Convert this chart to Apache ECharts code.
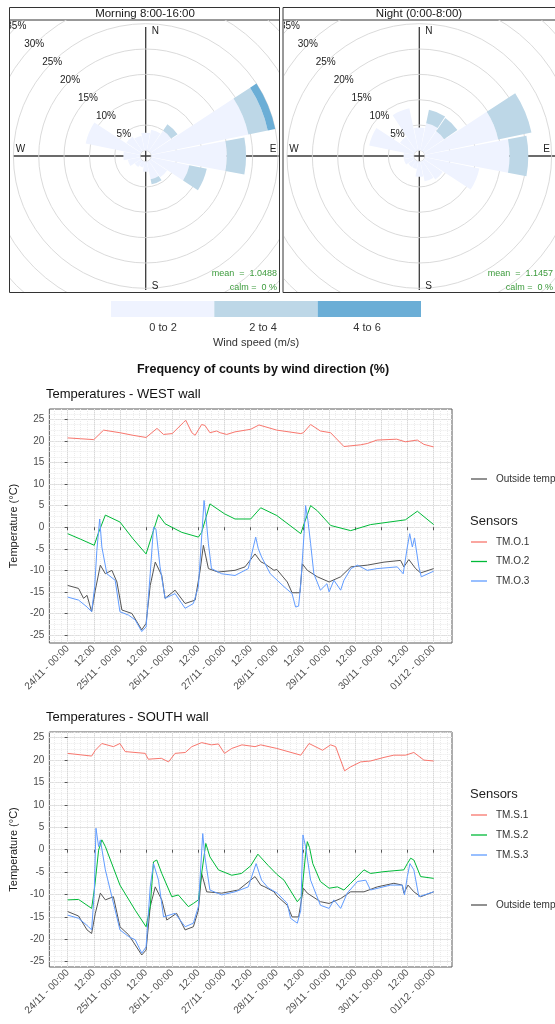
<!DOCTYPE html>
<html>
<head>
<meta charset="utf-8">
<script src="https://cdn.jsdelivr.net/npm/echarts@6/dist/echarts.min.js"></script>
<style>
html,body{margin:0;padding:0;background:#fff;overflow:hidden;width:555px;height:1024px;}
#main{position:absolute;left:0;top:0;width:555px;height:1024px;}
#rose1{position:absolute;left:10px;top:20px;width:269px;height:272px;}
#rose2{position:absolute;left:284px;top:20px;width:271px;height:272px;}
</style>
</head>
<body>
<div id="main"></div>
<div id="rose1"></div>
<div id="rose2"></div>
<script>
// ---------------- DATA ----------------
const directions = ['N','NNE','NE','ENE','E','ESE','SE','SSE','S','SSW','SW','WSW','W','WNW','NW','NNW'];
const speedBins = ['0 to 2','2 to 4','4 to 6'];
const morning0to2 = [3.5,4.2,5.0,19.6,14.9,7.7,4.0,3.6,2.0,1.2,1.5,2.5,3.3,11.0,3.5,3.0];
const morning2to4 = [0,0,1.5,3.9,3.8,3.5,0,1.0,0,0,0,0,0,0,0,0];
const morning4to6 = [0,0,0,1.5,0,0,0,0,0,0,0,0,0,0,0,0];
const night0to2 = [4.5,5.5,4.8,14.8,16.7,11.0,4.5,4.0,3.0,1.5,1.5,2.0,2.0,9.0,3.5,8.5];
const night2to4 = [0,2.7,3.2,6.7,3.7,0,0,0,0,0,0,0,0,0,0,0];
const night4to6 = [0,0,0,0,0,0,0,0,0,0,0,0,0,0,0,0];

const xTickHours = [0,12,24,36,48,60,72,84,96,108,120,132,144,156,168];
const xTickLabels = ['24/11 - 00:00','12:00','25/11 - 00:00','12:00','26/11 - 00:00','12:00','27/11 - 00:00','12:00','28/11 - 00:00','12:00','29/11 - 00:00','12:00','30/11 - 00:00','12:00','01/12 - 00:00'];
const yTicks = [-25,-20,-15,-10,-5,0,5,10,15,20,25];

// WEST wall  [hour since 24/11 00:00, °C]
const westOutside = [[0,-13.5],[5,-14.2],[7.3,-16.5],[8.9,-15.8],[11,-19.6],[12.7,-14.6],[15,-8.8],[17.3,-10.8],[20.3,-10],[22.6,-12.7],[24.9,-19.2],[29.5,-20],[34,-23.8],[36,-22.3],[37.9,-13.5],[40.2,-8.1],[43.2,-11.2],[44.7,-16.5],[49.3,-14.6],[53.9,-17.7],[58.5,-16.9],[60.8,-10],[62.3,-4.2],[64.6,-9.6],[69,-10.4],[76.8,-10],[81.4,-9.2],[86,-6.2],[88.6,-8.0],[90.5,-8.5],[94.7,-10],[96,-9.8],[100.8,-12.7],[103,-15.2],[106.6,-15.2],[107.7,-8.5],[110,-10],[114.6,-11.5],[120,-12.7],[125.3,-11.5],[130,-9.2],[137.5,-8.8],[145.2,-8.1],[152.8,-7.7],[154.3,-9.2],[156.6,-7.5],[159.7,-9.6],[162,-10.6],[168,-9.6]];
const westTMO1 = [[0,20.7],[6,20.5],[12,20.3],[16.5,22.5],[24,21.9],[30,21.3],[36,20.8],[41,22.9],[44,21.5],[48,21.7],[53.2,24.3],[54.2,24.8],[57,21.9],[58.5,21.3],[61.5,23.8],[63,23.6],[65.3,21.9],[68.4,22.3],[70,21.9],[73,21.5],[76.8,22.1],[84,22.7],[87.8,23.7],[96,22.5],[107,21.7],[108.2,21.9],[111.5,23.8],[116,22.3],[120.7,21.9],[126.8,18.7],[134.5,19.1],[137.5,19.4],[142,20.2],[151,20.4],[155,19.8],[160.5,20.2],[163.5,19.2],[168,18.6]];
const westTMO2 = [[0,-1.5],[6,-2.8],[12.2,-4.2],[14,-1.5],[17.3,2.8],[24,1.2],[30,-2.7],[36,-6.2],[41.7,2.9],[44.7,0.8],[52.4,-1.2],[60,-2.3],[61.5,-1.2],[65.3,5.4],[72,3.1],[76.8,1.9],[84,1.9],[88.6,4.5],[96,2.7],[107,-1.5],[108.5,0.8],[111.5,5.0],[114.6,3.8],[120.7,0.4],[129.9,-0.8],[139,0.6],[155,1.7],[160.5,3.7],[168,0.6]];
const westTMO3 = [[0,-16.2],[5,-16.9],[8.9,-18.5],[11,-19.6],[12.4,-13.8],[13.4,-5.4],[14.7,1.9],[15.7,-4.6],[18,-10.8],[21.8,-12.3],[24,-19.6],[28,-20.4],[31,-21.5],[34,-24.2],[36,-23.1],[37.9,-10.8],[39.4,0],[40.5,-0.4],[42.4,-9.2],[44.7,-16.5],[49.3,-15.4],[53.9,-18.8],[57.7,-17.7],[60,-13.8],[61.5,-2.3],[62.6,6.2],[63.5,2.3],[64.6,-3.8],[66,-9.6],[70.7,-10.8],[76.8,-11.2],[82.9,-9.6],[86.3,-2.3],[87.5,-5],[89,-6.9],[93,-10.8],[99.3,-13.8],[103,-15.4],[104.6,-18.5],[106,-18.3],[107,-13.1],[108.5,-1.5],[109.2,5.0],[110.3,1.5],[111.5,-3.8],[113,-10.8],[116,-14.6],[119,-13.1],[120,-15],[122.2,-12.3],[125.3,-14.6],[126.8,-12.3],[130,-9.6],[133,-8.8],[137.5,-10],[142,-9.6],[151.3,-9.2],[154,-10.8],[155.9,-4.6],[157,-1.5],[158.2,-4.6],[159.2,-2.5],[161.2,-9.2],[162.3,-11.5],[168,-10.2]];

// SOUTH wall
const southTMS1 = [[0,21.5],[11,20.9],[12.7,22.2],[15.7,23.7],[21,23.0],[24,23.7],[26.4,21.9],[35.6,21.5],[37,20.2],[43,20.4],[46.3,19.6],[49.3,21.5],[54,21.7],[57,23.0],[61.5,23.9],[66,23.4],[69.2,23.6],[72,21.5],[75.3,22.6],[80,23.4],[86,23.0],[88.6,23.4],[96,22.6],[107,21.1],[110.8,23.7],[117,22.2],[120.7,23.4],[123,23.0],[127.1,17.6],[129.9,18.5],[134.5,19.6],[139,19.8],[145.2,20.6],[149.7,21.1],[155.1,21.1],[158.9,21.7],[163.5,20.0],[168,19.8]];
const southTMS2 = [[0,-11.2],[5,-11.1],[11,-13.1],[12.4,-8.3],[14.2,-0.1],[15.7,2.2],[17.3,0.7],[24,-7.9],[31,-13.5],[36,-17.2],[37.9,-12.7],[39.4,-2.7],[40.9,-2.3],[43.2,-5.3],[47.8,-10.5],[50.8,-10.1],[55.4,-12.7],[57.7,-12.0],[60,-11.2],[61.5,-5.3],[63.4,1.4],[65.3,-1.6],[69.2,-4.5],[75.3,-5.7],[79.8,-5.3],[84,-3.6],[87.3,-1.0],[92,-3.5],[96,-5.5],[99.3,-6.8],[105.4,-11.6],[107.3,-10.5],[109.2,-1.0],[110,1.8],[111,0.5],[112.5,-3.1],[116,-7.1],[120,-8.6],[123.8,-8.3],[126.8,-9.0],[129.9,-7.5],[136,-4.5],[139,-5.3],[145.2,-4.9],[154.3,-4.5],[155.9,-3.1],[157.4,-1.9],[158.9,-2.3],[162,-6.0],[168,-6.4]];
const southTMS3 = [[0,-14.6],[5,-15.3],[9.6,-17.2],[11,-17.9],[12.2,-9.7],[13,4.8],[14.2,0.7],[15,2.2],[17.3,-4.5],[24,-17.9],[28,-19.4],[31,-20.1],[34,-23.1],[36,-21.7],[37.9,-8.3],[39.4,-3.1],[41.7,-6.8],[44,-15.0],[49.3,-14.2],[53.9,-17.2],[57.7,-16.4],[60,-12.7],[62,3.6],[63,-1.6],[65.3,-9.0],[70.7,-10.1],[76.8,-9.4],[82.9,-8.3],[86.5,-3.1],[89,-6.8],[92,-8.5],[96.2,-9.7],[100.8,-12],[102.3,-15.3],[105.4,-16.4],[107,-13.5],[108,3.3],[109.2,0.7],[111.5,-6.8],[116,-12.4],[120,-13.1],[122.2,-11.2],[125.3,-13.1],[128.3,-9.7],[133,-7.1],[136.8,-6.8],[139,-9.0],[148.2,-7.9],[153.6,-7.9],[154.6,-10.1],[155.9,-6.0],[157.1,-3.1],[158.9,-4.5],[161.2,-10.5],[168,-9.4]];
const southOutside = [[0,-13.8],[5,-14.8],[8.9,-17.9],[11,-18.7],[12.7,-14.2],[15,-9.7],[17.3,-11.2],[21,-10.5],[24,-17.2],[28,-19.0],[34,-23.5],[36,-22.4],[37.9,-12.7],[40.2,-8.3],[43.2,-11.2],[45.5,-15.7],[50,-14.2],[53.9,-17.9],[57.7,-17.2],[60,-13.5],[61.5,-5.3],[63.8,-9.4],[70.7,-9.7],[78.3,-9.0],[86,-6.0],[88.6,-7.9],[90.5,-8.3],[94.7,-9.4],[96,-10.3],[100.8,-12.4],[103,-15.0],[106,-15.0],[108.2,-8.6],[110,-9.7],[116,-11.6],[120,-12.0],[125.3,-10.9],[129.9,-9.4],[136,-9.4],[142.1,-8.3],[149.7,-7.5],[153.6,-7.9],[154.3,-9.7],[156.2,-7.9],[158.9,-9.4],[162,-10.5],[168,-9.4]];

// ---------------- STYLE ----------------
const FONT = '"Liberation Sans", Arial, sans-serif';
const windColors = ['#EFF3FF','#BDD7E7','#6BAED6'];
const sensorColors = ['#F8766D','#00BA38','#619CFF'];
const outsideColor = '#555555';

// ---------------- WIND ROSES ----------------
function roseOption(cx, cy, bins, meanText, w) {
  const seriesList = bins.map((vals, i) => ({
    type: 'bar', coordinateSystem: 'polar', polarIndex: 0, stack: 'speed',
    name: speedBins[i], data: vals, barCategoryGap: '5%',
    itemStyle: { color: windColors[i] }, silent: true
  }));
  const t = (x, y, text, opts) => ({
    type: 'text', x: x, y: y, z: 20,
    style: Object.assign({ text: text, font: '10px ' + FONT, fill: '#222',
      textAlign: 'left', textVerticalAlign: 'middle', align: 'left', verticalAlign: 'middle' }, opts || {})
  });
  return {
    animation: false,
    textStyle: { fontFamily: FONT },
    polar: [{ center: [cx, cy], radius: [5.6, 183] }, { center: [cx, cy], radius: [5.6, 183] }],
    angleAxis: [
      { polarIndex: 0, type: 'category', data: directions, startAngle: 101.25, clockwise: true,
        axisLine: { show: false }, axisTick: { show: false }, axisLabel: { show: false }, splitLine: { show: false } },
      { polarIndex: 1, type: 'value', min: 0, max: 360, startAngle: 135,
        axisLine: { show: false }, axisTick: { show: false }, axisLabel: { show: false }, splitLine: { show: false } }
    ],
    radiusAxis: [
      { polarIndex: 0, type: 'value', min: 0, max: 35, interval: 5,
        axisLine: { show: false }, axisTick: { show: false }, axisLabel: { show: false },
        splitLine: { show: true, lineStyle: { color: '#d6d6d6', width: 0.9 } } },
      { polarIndex: 1, type: 'value', min: 0, max: 35, interval: 5, z: 10,
        axisLine: { show: false }, axisTick: { show: false }, splitLine: { show: false },
        axisLabel: { show: true, rotate: 0, margin: 0, align: 'center', verticalAlign: 'middle',
          fontSize: 10, color: '#222', fontFamily: FONT,
          formatter: v => (v === 0 ? '' : v + '%') } }
    ],
    graphic: [
      { type: 'line', z: 0, shape: { x1: 3, y1: cy, x2: w, y2: cy }, style: { stroke: '#3a3a3a', lineWidth: 1.3 } },
      { type: 'line', z: 0, shape: { x1: cx, y1: 7, x2: cx, y2: 270 }, style: { stroke: '#3a3a3a', lineWidth: 1.3 } },
      t(cx + 6, cy - 125, 'N'),
      t(cx + 6, cy + 130, 'S'),
      t(cx - 130, cy - 7, 'W'),
      t(cx + 124, cy - 7, 'E'),
      t(w - 2, 253.5, 'mean  =  ' + meanText, { font: '9px ' + FONT, fill: '#3c9b3c', textAlign: 'right', align: 'right' }),
      t(w - 2, 267.5, 'calm =  0 %', { font: '9px ' + FONT, fill: '#3c9b3c', textAlign: 'right', align: 'right' })
    ],
    series: seriesList
  };
}

const rose1 = echarts.init(document.getElementById('rose1'));
rose1.setOption(roseOption(135.7, 136, [morning0to2, morning2to4, morning4to6], '1.0488', 269));
const rose2 = echarts.init(document.getElementById('rose2'));
rose2.setOption(roseOption(135.3, 136, [night0to2, night2to4, night4to6], '1.1457', 271));

// ---------------- TEMPERATURE CHARTS ----------------
const xMinor = []; for (let h = -6; h <= 174; h += 3) xMinor.push(h);
const yMinor = []; for (let v = -26.25; v <= 27; v += 1.25) yMinor.push(v);

function xAxes(gi) {
  return [
    { gridIndex: gi, type: 'value', position: 'bottom', min: -8.4, max: 176.4,
      axisLine: { show: false },
      axisTick: { show: true, customValues: xTickHours, length: 3, lineStyle: { color: '#555' } },
      axisLabel: { customValues: xTickHours, rotate: 45, margin: 4, fontSize: 10, color: '#4d4d4d', fontFamily: FONT,
        formatter: v => xTickLabels[xTickHours.indexOf(v)] || '' },
      splitLine: { show: true, lineStyle: { color: '#d8d8d8', width: 1 } } },
    { gridIndex: gi, type: 'value', position: 'top', min: -8.4, max: 176.4,
      axisLine: { show: false }, axisTick: { show: false, customValues: xMinor }, axisLabel: { show: false },
      splitLine: { show: true, lineStyle: { color: '#ebebeb', width: 1, type: 'dotted' } } }
  ];
}
function yAxes(gi, mn, mx) {
  return [
    { gridIndex: gi, type: 'value', position: 'left', min: mn, max: mx,
      name: 'Temperature (°C)', nameLocation: 'middle', nameGap: 24,
      nameTextStyle: { fontSize: 11, color: '#1a1a1a', fontFamily: FONT },
      axisLine: { show: false },
      axisTick: { show: true, customValues: yTicks, length: 3, lineStyle: { color: '#555' } },
      axisLabel: { customValues: yTicks, margin: 5, fontSize: 10, color: '#4d4d4d', fontFamily: FONT },
      splitLine: { show: true, lineStyle: { color: '#d8d8d8', width: 1 } } },
    { gridIndex: gi, type: 'value', position: 'right', min: mn, max: mx,
      axisLine: { show: false }, axisTick: { show: false, customValues: yMinor }, axisLabel: { show: false },
      splitLine: { show: true, lineStyle: { color: '#ebebeb', width: 1, type: 'dotted' } } }
  ];
}
function line(name, data, color, xi, yi) {
  return { type: 'line', name: name, data: data, xAxisIndex: xi, yAxisIndex: yi,
    symbol: 'none', showSymbol: false, lineStyle: { color: color, width: 1 }, itemStyle: { color: color }, z: 3 };
}

const legendCommon = { orient: 'vertical', icon: 'rect', itemWidth: 16, itemHeight: 1.3, itemGap: 7.5, padding: 0,
  textStyle: { fontSize: 10, lineHeight: 12, color: '#333', fontFamily: FONT, padding: [0, 0, 0, 4] }, selectedMode: false };

const txt = (x, y, text, font, align, fill) => ({
  type: 'text', x: x, y: y,
  style: { text: text, font: font, fill: fill || '#222', textAlign: align || 'left', align: align || 'left',
    textVerticalAlign: 'middle', verticalAlign: 'middle' }
});

const main = echarts.init(document.getElementById('main'));
main.setOption({
  animation: false,
  backgroundColor: '#fff',
  textStyle: { fontFamily: FONT },
  title: [
    { text: 'Temperatures - WEST wall', left: 46, top: 388, padding: 0, textStyle: { fontSize: 13, fontWeight: 'normal', color: '#111', fontFamily: FONT } },
    { text: 'Temperatures - SOUTH wall', left: 46, top: 711, padding: 0, textStyle: { fontSize: 13, fontWeight: 'normal', color: '#111', fontFamily: FONT } }
  ],
  grid: [
    { left: 48, top: 409, width: 404, height: 234, show: true, borderColor: '#5a5a5a', borderWidth: 1, backgroundColor: '#fff' },
    { left: 48, top: 732, width: 404, height: 235, show: true, borderColor: '#5a5a5a', borderWidth: 1, backgroundColor: '#fff' }
  ],
  xAxis: xAxes(0).concat(xAxes(1)),
  yAxis: yAxes(0, -26.85, 27.4).concat(yAxes(1, -26.18, 26.27)),
  legend: [
    Object.assign({}, legendCommon, { left: 471, top: 473, data: ['Outside temperature'] }),
    Object.assign({}, legendCommon, { left: 471, top: 536, data: ['TM.O.1', 'TM.O.2', 'TM.O.3'] }),
    Object.assign({}, legendCommon, { left: 471, top: 809, itemGap: 8, data: ['TM.S.1', 'TM.S.2', 'TM.S.3'] }),
    Object.assign({}, legendCommon, { left: 471, top: 899, data: ['Outside temperature'] })
  ],
  graphic: [
    // wind-rose panels (frames and strips)
    { type: 'rect', shape: { x: 9.5, y: 7.5, width: 270, height: 285 }, style: { fill: 'none', stroke: '#333', lineWidth: 1 } },
    { type: 'line', shape: { x1: 9.5, y1: 20, x2: 279.5, y2: 20 }, style: { stroke: '#333', lineWidth: 1 } },
    { type: 'rect', shape: { x: 283, y: 7.5, width: 280, height: 285 }, style: { fill: 'none', stroke: '#333', lineWidth: 1 } },
    { type: 'line', shape: { x1: 283, y1: 20, x2: 560, y2: 20 }, style: { stroke: '#333', lineWidth: 1 } },
    txt(145, 14.2, 'Morning 8:00-16:00', '11.5px ' + FONT, 'center', '#1a1a1a'),
    txt(419, 14.2, 'Night (0:00-8:00)', '11.5px ' + FONT, 'center', '#1a1a1a'),
    // wind speed key
    { type: 'rect', shape: { x: 111, y: 301, width: 103.3, height: 16 }, style: { fill: windColors[0] } },
    { type: 'rect', shape: { x: 214.3, y: 301, width: 103.4, height: 16 }, style: { fill: windColors[1] } },
    { type: 'rect', shape: { x: 317.7, y: 301, width: 103.3, height: 16 }, style: { fill: windColors[2] } },
    txt(163, 327.5, speedBins[0], '11px ' + FONT, 'center', '#333'),
    txt(263, 327.5, speedBins[1], '11px ' + FONT, 'center', '#333'),
    txt(367, 327.5, speedBins[2], '11px ' + FONT, 'center', '#333'),
    txt(256, 342.5, 'Wind speed (m/s)', '11px ' + FONT, 'center', '#333'),
    txt(263, 370, 'Frequency of counts by wind direction (%)', 'bold 12.5px ' + FONT, 'center', '#111'),
    // legend titles
    txt(470, 521, 'Sensors', '13px ' + FONT, 'left', '#222'),
    txt(470, 794, 'Sensors', '13px ' + FONT, 'left', '#222')
  ],
  series: [
    line('Outside temperature', westOutside, outsideColor, 0, 0),
    line('TM.O.1', westTMO1, sensorColors[0], 0, 0),
    line('TM.O.2', westTMO2, sensorColors[1], 0, 0),
    line('TM.O.3', westTMO3, sensorColors[2], 0, 0),
    line('Outside temperature', southOutside, outsideColor, 2, 2),
    line('TM.S.1', southTMS1, sensorColors[0], 2, 2),
    line('TM.S.2', southTMS2, sensorColors[1], 2, 2),
    line('TM.S.3', southTMS3, sensorColors[2], 2, 2)
  ]
});
</script>
</body>
</html>
